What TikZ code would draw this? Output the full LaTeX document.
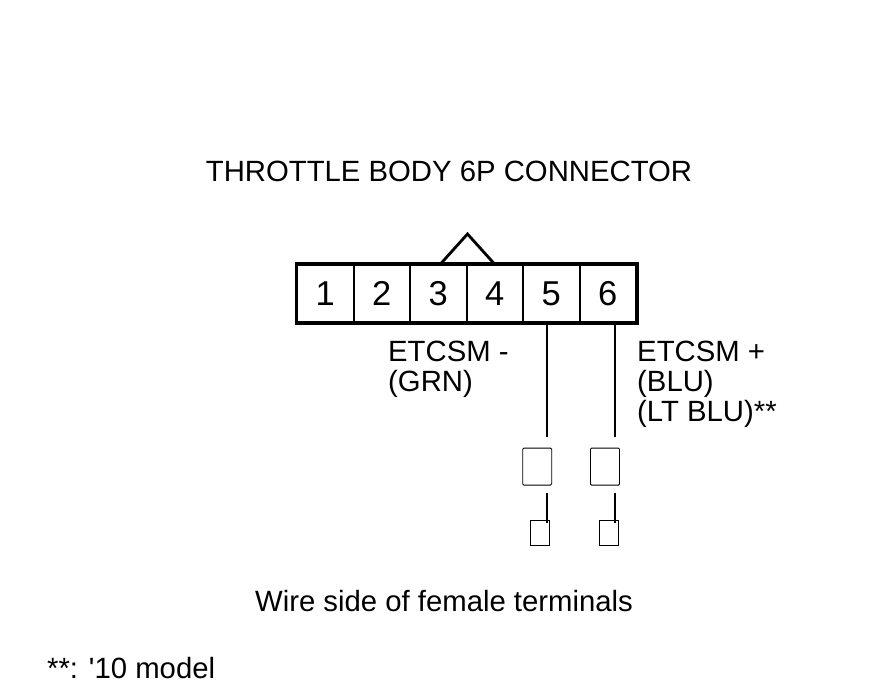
\documentclass[tikz,border=0pt]{standalone}
\usepackage{fontspec}
\setmainfont{Liberation Sans}[Ligatures=TeXOff]
\usetikzlibrary{positioning}
\tikzset{every node/.style={align=left, inner sep=0pt},
         lbl/.style={font=\fontsize{29.3}{30}\selectfont},    % all labels
         cell/.style={ % one pin cavity of the connector
           draw, line width=2pt,
           minimum width=56.5pt, minimum height=57pt,
           font=\fontsize{34.5}{34}\selectfont},
         wire/.style={line width=1.8pt},
         termbig/.style={draw, line width=0.9pt, rounded corners=1.2pt,
           minimum width=29pt, minimum height=37pt},
         termsmall/.style={draw, line width=0.9pt,
           minimum width=19pt, minimum height=25pt}}

\begin{document}
\begin{tikzpicture}[x=1pt,y=-1pt]
  \useasboundingbox (0,0) rectangle (880,684);

  \node [lbl, anchor=base] (title) at (449,182) {THROTTLE BODY 6P CONNECTOR};

  % connector face
  \foreach \i in {1,...,6}
    \node [cell] (p\i) at ({297+56.5*(\i-0.5)},293.5) {\i};
  \draw [line width=3pt] (p1.north west) rectangle (p6.south east);
  \draw [line width=2.8pt, line join=miter]
    (p3.north east) ++(-27,0) -- ++(27,-30) -- ++(27,30);

  % wires and terminals
  \coordinate (w5) at (547,322);
  \coordinate (w6) at (615,322);
  \node [termbig] (t5) at (537.2,466.6) {};
  \node [termbig] (t6) at (605,466.6) {};
  \node [termsmall] (s5) at (539.6,532.5) {};
  \node [termsmall] (s6) at (608.6,532.5) {};
  \draw [wire] (w5) -- (w5 |- 0,437);
  \draw [wire] (w6) -- (w6 |- 0,437);
  \draw [wire] (w5 |- 0,493) -- (w5 |- 0,523);
  \draw [wire] (w6 |- 0,493) -- (w6 |- 0,523);

  \node [lbl, anchor=north west] (neg) at (388,341) {ETCSM -\\(GRN)};
  \node [lbl, anchor=north west] (pos) at (637,341) {ETCSM +\\(BLU)\\(LT BLU)**};

  \node [lbl, anchor=base] (side) at (444,611) {Wire side of female terminals};
  \node [lbl, anchor=base west] (note) at (47,678) {**: '10 model};
\end{tikzpicture}
\end{document}
